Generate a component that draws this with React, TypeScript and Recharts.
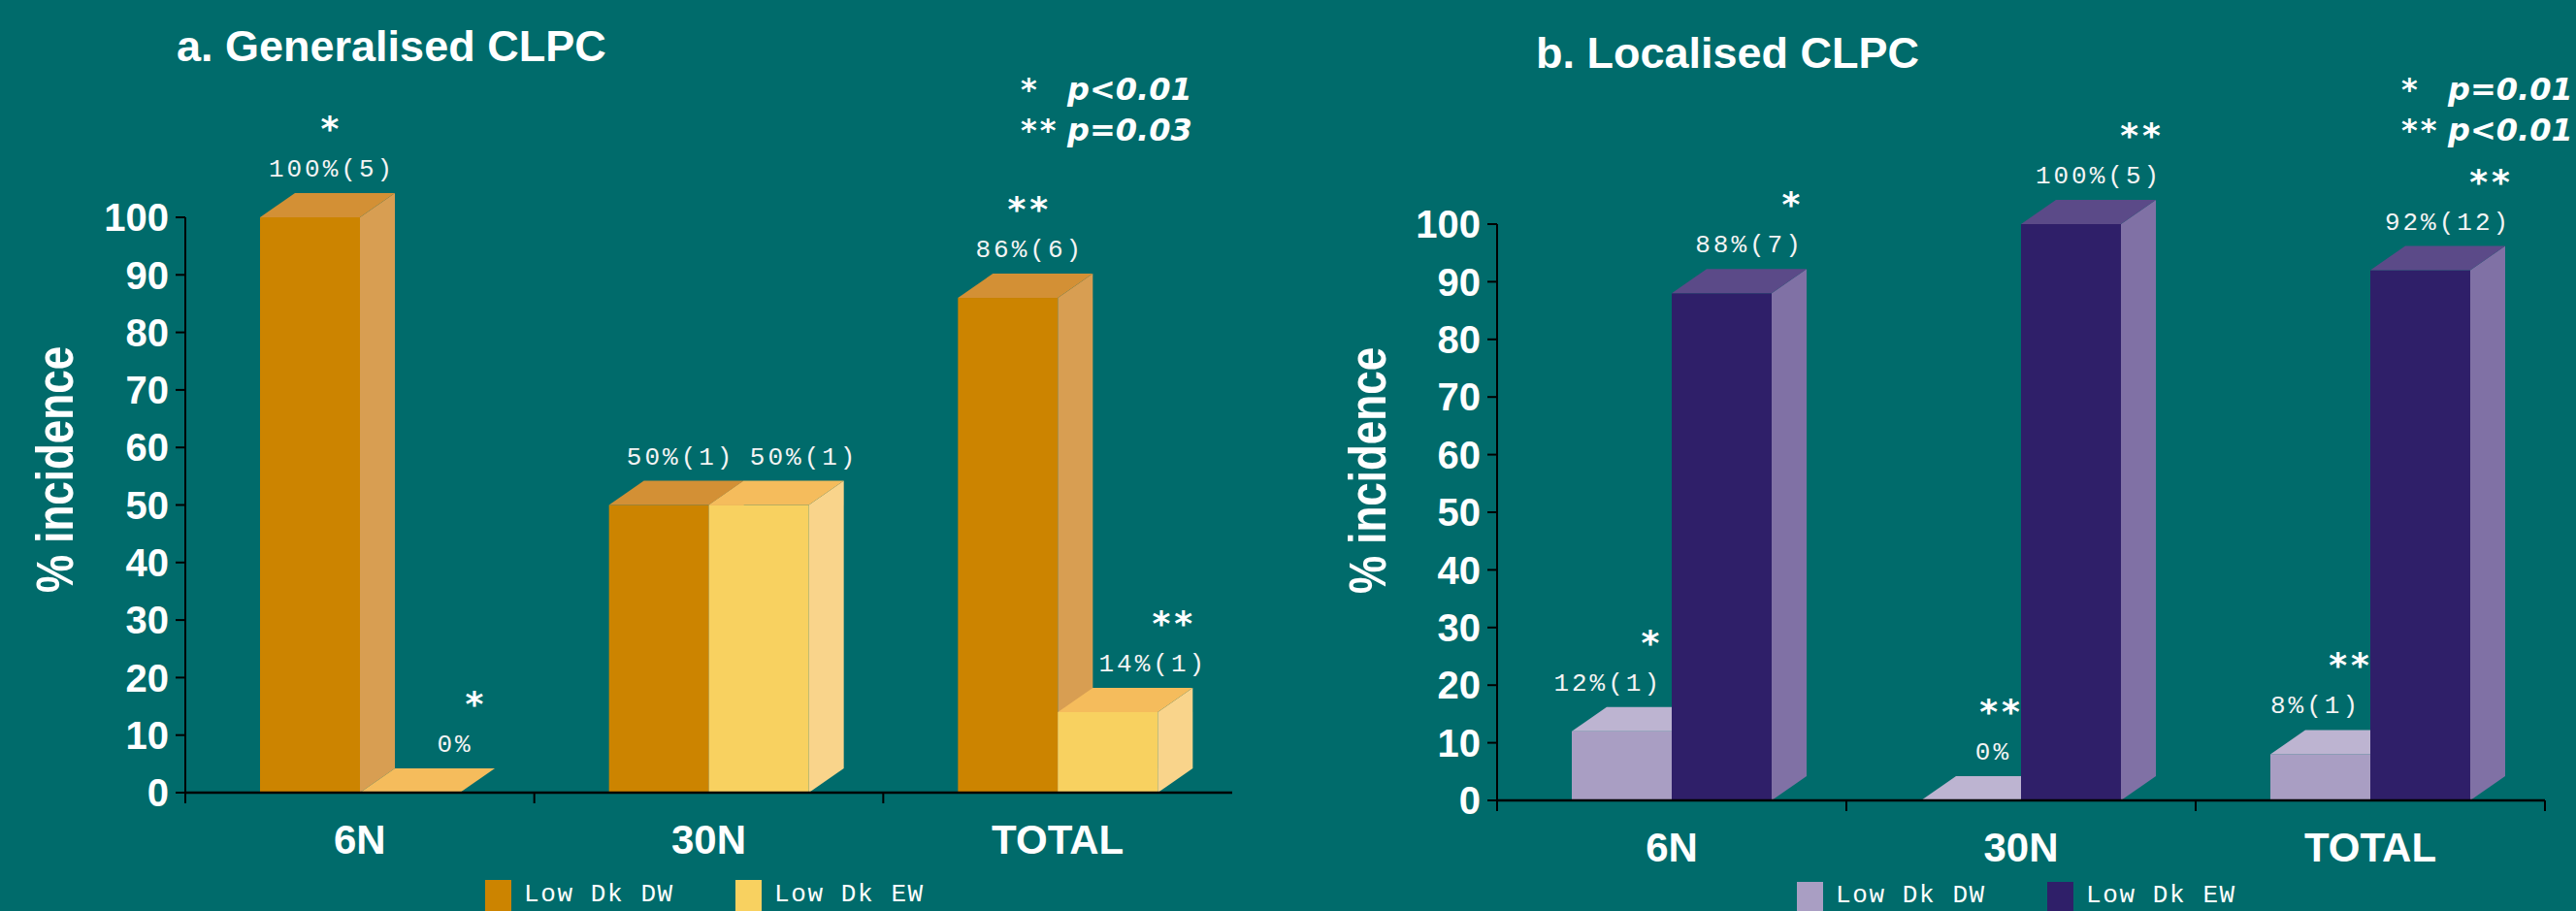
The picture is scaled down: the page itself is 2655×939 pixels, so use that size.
import React from 'react';
import { BarChart, Bar, XAxis, YAxis, LabelList } from 'recharts';

const categories = ['6N', '30N', 'TOTAL'];
const yTicks = [0, 10, 20, 30, 40, 50, 60, 70, 80, 90, 100];
const seriesNames = ['Low Dk DW', 'Low Dk EW'];
const noteStars = ['*', '**'];

// a. Generalised CLPC
const genDW = [100, 50, 86];
const genEW = [0, 50, 14];
const genDWText = ['100%(5)', '50%(1)', '86%(6)'];
const genEWText = ['0%', '50%(1)', '14%(1)'];
const genDWStar = ['*', '', '**'];
const genEWStar = ['*', '', '**'];
const genNotes = ['p<0.01', 'p=0.03'];

// b. Localised CLPC
const locDW = [12, 0, 8];
const locEW = [88, 100, 92];
const locDWText = ['12%(1)', '0%', '8%(1)'];
const locEWText = ['88%(7)', '100%(5)', '92%(12)'];
const locDWStar = ['*', '**', '**'];
const locEWStar = ['*', '**', '**'];
const locNotes = ['p=0.01', 'p<0.01'];

const BG = '#006B6B';
const DX = 36;
const DY = 25;
const SANS = "'Liberation Sans', Arial, sans-serif";
const MONO = "'Liberation Mono', monospace";
const WIDE = "'DejaVu Sans', Verdana, sans-serif";

const genColors = {
  dw: { front: '#CC8400', top: '#D39035', side: '#D89E52' },
  ew: { front: '#F8D160', top: '#F5BC5C', side: '#F9D48B' },
};
const locColors = {
  dw: { front: '#A99EC3', top: '#BDB4D1', side: '#9B90B8' },
  ew: { front: '#2F1F69', top: '#5B4A88', side: '#8071A5' },
};

const buildRows = (dw, ew, dwText, ewText, dwStar, ewStar) =>
  categories.map((name, i) => ({
    name,
    dw: dw[i],
    ew: ew[i],
    dwText: dwText[i],
    ewText: ewText[i],
    dwStar: dwStar[i],
    ewStar: ewStar[i],
  }));

const genRows = buildRows(genDW, genEW, genDWText, genEWText, genDWStar, genEWStar);
const locRows = buildRows(locDW, locEW, locDWText, locEWText, locDWStar, locEWStar);

// 3d box: front face, side face, top face
const box3D = (c) => (props: any) => {
  const { x, y, width: w } = props;
  if (x == null || y == null || isNaN(x) || isNaN(y)) return null;
  const h = Math.max(props.height || 0, 0);
  return (
    <g>
      <rect x={x} y={y} width={w} height={h} fill={c.front} />
      <polygon
        points={`${x + w},${y} ${x + w + DX},${y - DY} ${x + w + DX},${y + h - DY} ${x + w},${y + h}`}
        fill={c.side}
      />
      <polygon
        points={`${x},${y} ${x + w},${y} ${x + w + DX},${y - DY} ${x + DX},${y - DY}`}
        fill={c.top}
      />
    </g>
  );
};

const rectOf = (p: any) => (p.viewBox && p.viewBox.width != null ? p.viewBox : p);

const anchorX = (place, r) => (place.anchor === 'end' ? r.x + r.width - place.dx : r.x + place.dx);

const valueText = (place) => (p: any) => {
  if (!p.value) return null;
  const r = rectOf(p);
  return (
    <text
      x={anchorX(place, r)}
      y={r.y - 42}
      textAnchor={place.anchor}
      fill="#F4F4F4"
      fontFamily={MONO}
      fontSize={26}
      letterSpacing={3}
    >
      {p.value}
    </text>
  );
};

const starText = (place) => (p: any) => {
  if (!p.value) return null;
  const r = rectOf(p);
  return (
    <text
      x={anchorX(place, r) + place.starDx}
      y={r.y - 79}
      textAnchor="middle"
      fill="#fff"
      fontFamily={WIDE}
      fontWeight="bold"
      fontStyle="italic"
      fontSize={36}
      letterSpacing={4}
    >
      {p.value}
    </text>
  );
};

const CategoryTick = (props: any) => {
  const { x, y, payload, index, band, endTick } = props;
  const left = x - band / 2;
  return (
    <g>
      <line x1={left} y1={y} x2={left} y2={y + 11} stroke="#000" strokeWidth={2} />
      {endTick && index === categories.length - 1 && (
        <line x1={x + band / 2} y1={y} x2={x + band / 2} y2={y + 11} stroke="#000" strokeWidth={2} />
      )}
      <text x={x} y={y + 63} textAnchor="middle" fill="#fff" fontFamily={SANS} fontWeight="bold" fontSize={42}>
        {payload.value}
      </text>
    </g>
  );
};

const Panel = ({ left, width, top, zero, axisW, right, rows, colors, place, endTick }) => {
  const band = (width - axisW - right) / categories.length;
  return (
    <div style={{ position: 'absolute', left, top: 0 }}>
      <BarChart
        width={width}
        height={939}
        data={rows}
        margin={{ top, right, bottom: 0, left: 0 }}
        barSize={103}
        barGap={0}
      >
        <XAxis
          dataKey="name"
          height={939 - zero}
          axisLine={{ stroke: '#000', strokeWidth: 2.5 }}
          tickLine={false}
          tickSize={0}
          tickMargin={0}
          interval={0}
          tick={(p: any) => <CategoryTick {...p} band={band} endTick={endTick} />}
        />
        <YAxis
          width={axisW}
          domain={[0, 100]}
          ticks={yTicks}
          interval={0}
          axisLine={{ stroke: '#000', strokeWidth: 2 }}
          tickLine={{ stroke: '#000', strokeWidth: 2 }}
          tickSize={10}
          tickMargin={7}
          tick={{ fill: '#fff', fontFamily: SANS, fontWeight: 'bold', fontSize: 40 }}
        />
        <Bar dataKey="dw" name={seriesNames[0]} fill={colors.dw.front} shape={box3D(colors.dw)} isAnimationActive={false}>
          <LabelList dataKey="dwText" content={valueText(place.dw)} />
          <LabelList dataKey="dwStar" content={starText(place.dw)} />
        </Bar>
        <Bar dataKey="ew" name={seriesNames[1]} fill={colors.ew.front} shape={box3D(colors.ew)} isAnimationActive={false}>
          <LabelList dataKey="ewText" content={valueText(place.ew)} />
          <LabelList dataKey="ewStar" content={starText(place.ew)} />
        </Bar>
      </BarChart>
    </div>
  );
};

const Notes = ({ starX, textX, notes }) => (
  <g fill="#fff" fontFamily={WIDE} fontWeight="bold" fontStyle="italic" fontSize={32}>
    {notes.map((t, i) => (
      <g key={t + i}>
        <text x={starX} y={103 + i * 42} letterSpacing={3}>{noteStars[i]}</text>
        <text x={textX} y={103 + i * 42}>{t}</text>
      </g>
    ))}
  </g>
);

const LegendRow = ({ x0, top, colors, base }) => (
  <g>
    {[colors.dw.front, colors.ew.front].map((c, i) => (
      <g key={i}>
        <rect x={x0 + i * 258} y={top} width={27} height={40} fill={c} />
        <text
          x={x0 + i * 258 + 40}
          y={base}
          fill="#fff"
          fontFamily={MONO}
          fontSize={26}
          letterSpacing={1.6}
        >
          {seriesNames[i]}
        </text>
      </g>
    ))}
  </g>
);

const AxisTitle = ({ cx, cy }) => (
  <text
    transform={`translate(${cx},${cy}) rotate(-90) scale(1,1.2)`}
    textAnchor="middle"
    dominantBaseline="central"
    fill="#fff"
    fontFamily={SANS}
    fontWeight="bold"
    fontSize={44}
  >
    % incidence
  </text>
);

export default function App() {
  return (
    <div
      style={{
        position: 'absolute',
        left: 0,
        top: 0,
        width: 2655,
        height: 939,
        background: BG,
        overflow: 'hidden',
      }}
    >
      <Panel
        left={0}
        width={1330}
        top={224}
        zero={817}
        axisW={191}
        right={60}
        rows={genRows}
        colors={genColors}
        place={{ dw: { anchor: 'middle', dx: 74, starDx: 0 }, ew: { anchor: 'middle', dx: 98, starDx: 22 } }}
        endTick={false}
      />
      <Panel
        left={1330}
        width={1325}
        top={231}
        zero={825}
        axisW={213}
        right={32}
        rows={locRows}
        colors={locColors}
        place={{ dw: { anchor: 'end', dx: 10, starDx: -10 }, ew: { anchor: 'middle', dx: 80, starDx: 45 } }}
        endTick={true}
      />
      <svg
        width={2655}
        height={939}
        style={{ position: 'absolute', left: 0, top: 0, pointerEvents: 'none' }}
      >
        <text x={182} y={63} fill="#fff" fontFamily={SANS} fontWeight="bold" fontSize={45}>
          a. Generalised CLPC
        </text>
        <text x={1583} y={70} fill="#fff" fontFamily={SANS} fontWeight="bold" fontSize={45}>
          b. Localised CLPC
        </text>
        <Notes starX={1052} textX={1100} notes={genNotes} />
        <Notes starX={2475} textX={2523} notes={locNotes} />
        <AxisTitle cx={57} cy={484} />
        <AxisTitle cx={1410} cy={485} />
        <LegendRow x0={500} top={907} colors={genColors} base={929} />
        <LegendRow x0={1852} top={909} colors={locColors} base={930} />
      </svg>
    </div>
  );
}
